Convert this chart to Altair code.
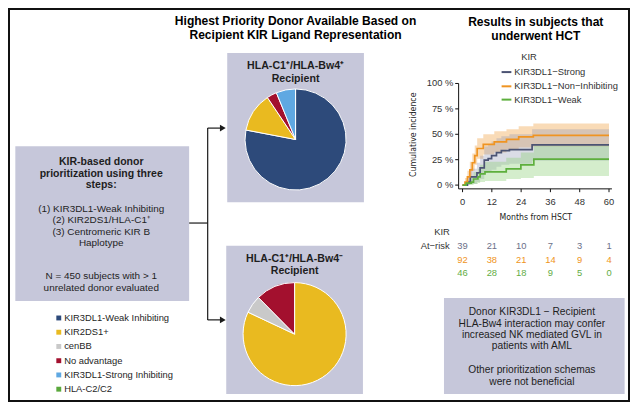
import altair as alt
import pandas as pd

# ---------------- canvas mapping (reference px -> chart px) ----------------
W, H = 622, 394
SX = W / 637.0
SY = H / 415.0
FS = 0.965
def px(X): return (X - 1.5) * SX
def py(Y): return (Y - 1.5) * SY

SANS = "Liberation Sans, Arial, Helvetica, sans-serif"
NARROW = "Liberation Sans Narrow, DejaVu Sans Condensed, Arial Narrow, Liberation Sans, sans-serif"
PANEL = "#c6c7da"

# ---------------- data ----------------
categories = ["KIR3DL1-Weak Inhibiting", "KIR2DS1+", "cenBB", "No advantage",
              "KIR3DL1-Strong Inhibiting", "HLA-C2/C2"]
cat_colors = ["#2d4a7a", "#e9ba20", "#c9c9c9", "#a3102e", "#5fa8e2", "#5aa83c"]
pie1_values = [78.0, 12.6, 0.0, 3.2, 6.2, 0.0]   # HLA-C1+/HLA-Bw4+ recipients (%)
pie2_values = [0.0, 82.0, 5.6, 12.4, 0.0, 0.0]   # HLA-C1+/HLA-Bw4- recipients (%)

km_series = ["KIR3DL1\u2212Strong", "KIR3DL1\u2212Non\u2212Inhibiting", "KIR3DL1\u2212Weak"]
km_colors = ["#4b5373", "#ef9422", "#5daf3d"]
band_colors = ["#8f95b3", "#f2b060", "#8fd07a"]

strong_t = [0, 2, 3.2, 5.9, 7.2, 8.9, 10.5, 11.9, 13.9, 15.9, 19.2, 28.5, 60]
strong_est = [0, 3, 8, 12, 17, 24.5, 26, 29, 32, 34, 35, 39.5, 39.5]
strong_lo = [0, 0, 1, 3, 6, 12, 13, 15, 18, 20, 21, 24, 24]
strong_hi = [0, 8, 16, 22, 29, 38, 40, 43, 46, 48, 50, 55, 55]

noninh_t = [0, 1, 2, 3, 4, 5, 6, 8.5, 13, 18, 23, 29, 60]
noninh_est = [0, 3, 8, 15, 22, 29, 36, 40, 42.5, 45, 47.5, 49, 49]
noninh_lo = [0, 0.5, 3, 8, 14, 20, 26, 30, 32, 35, 37, 38, 38]
noninh_hi = [0, 7, 14, 23, 31, 39, 46, 50, 53, 55, 58, 60.5, 60.5]

weak_t = [0, 1.5, 3.6, 4.5, 6.3, 7.2, 9.2, 17.9, 23.9, 29.2, 60]
weak_est = [0, 2, 3, 6, 8, 11, 13, 16, 20, 25.5, 25.5]
weak_lo = [0, 0, 0, 1, 2, 3, 4, 6, 7, 9, 9]
weak_hi = [0, 5, 8, 13, 16, 20, 23, 27, 32, 39, 39]

risk_times = [0, 12, 24, 36, 48, 60]
risk_strong = [39, 21, 10, 7, 3, 1]
risk_noninh = [92, 38, 21, 14, 9, 4]
risk_weak = [46, 28, 18, 9, 5, 0]
risk_colors = ["#6b7089", "#ef9422", "#63ad45"]

x_ticks = [0, 12, 24, 36, 48, 60]
y_ticks = [0, 25, 50, 75, 100]
x_domain = [-1.6, 61.2]
y_domain = [-3.7, 100]

# ---------------- helpers ----------------
def one():
    return alt.Data(values=[{"a": 1}])

def rect(x1, y1, x2, y2, fill):
    return alt.Chart(one()).mark_rect(fill=fill).encode(
        x=alt.value(px(x1)), x2=alt.value(px(x2)), y=alt.value(py(y1)), y2=alt.value(py(y2)))

def line(x1, y1, x2, y2, color="#1a1a1a", w=1.2):
    return alt.Chart(one()).mark_rule(color=color, strokeWidth=w).encode(
        x=alt.value(px(x1)), x2=alt.value(px(x2)), y=alt.value(py(y1)), y2=alt.value(py(y2)))

def text_layer(rows, weight="normal", align="center", font=SANS, angle=0):
    df = pd.DataFrame([{"x": px(r[0]), "y": py(r[1]), "text": r[2], "size": r[3] * FS,
                        "color": r[4] if len(r) > 4 else "#1e1e1e"} for r in rows])
    return alt.Chart(df).mark_text(fontWeight=weight, align=align, baseline="middle",
                                   font=font, angle=angle).encode(
        x=alt.X("x:Q", scale=None), y=alt.Y("y:Q", scale=None), text="text:N",
        size=alt.Size("size:Q", scale=None), color=alt.Color("color:N", scale=None))

def pie(values, cx, cy, r):
    df = pd.DataFrame({"cat": categories, "v": values, "col": cat_colors,
                       "rank": list(range(len(categories)))})
    df = df[df.v > 0]
    return alt.Chart(df).mark_arc(outerRadius=r * 0.972, stroke="white", strokeWidth=1).encode(
        theta=alt.Theta("v:Q", stack=True),
        order=alt.Order("rank:Q"),
        color=alt.Color("col:N", scale=None),
        x=alt.value(px(cx)), y=alt.value(py(cy)))

# ---------------- layers ----------------
layers = []
# frame
layers.append(alt.Chart(one()).mark_rect(fill="white", stroke="#111", strokeWidth=2).encode(
    x=alt.value(1), x2=alt.value(W - 1), y=alt.value(1), y2=alt.value(H - 1)))
# boxes
layers += [rect(9, 147, 187, 310, PANEL), rect(226, 49, 366, 206, PANEL),
           rect(225, 252, 365, 408, PANEL), rect(448, 307, 633, 408, PANEL)]
# connectors
layers += [line(187, 228, 206, 228), line(206, 128, 206, 330),
           line(206, 128, 220, 128), line(206, 330, 220, 330)]
arrow_df = pd.DataFrame({"x": [px(221.5), px(221.5)], "y": [py(128), py(330)]})
layers.append(alt.Chart(arrow_df).mark_point(shape="triangle-right", filled=True, size=45,
                                             color="#1a1a1a", opacity=1).encode(
    x=alt.X("x:Q", scale=None), y=alt.Y("y:Q", scale=None)))

# pies
layers.append(pie(pie1_values, 296, 140, 52))
layers.append(pie(pie2_values, 295, 345, 53))

# pie legend (left)
leg_y = [328 + 15 * i for i in range(len(categories))]
leg_df = pd.DataFrame({"x": [px(53.5)] * len(categories), "y": [py(v) for v in leg_y],
                       "col": cat_colors})
layers.append(alt.Chart(leg_df).mark_square(size=24, opacity=1).encode(
    x=alt.X("x:Q", scale=None), y=alt.Y("y:Q", scale=None), color=alt.Color("col:N", scale=None)))
layers.append(text_layer([(59, y, c, 9.7) for y, c in zip(leg_y, categories)], align="left"))

# bold texts
layers.append(text_layer([
    (296, 15, "Highest Priority Donor Available Based on", 12.5, "#000"),
    (296, 30, "Recipient KIR Ligand Representation", 12.5, "#000"),
    (542, 16, "Results in subjects that", 12.5, "#000"),
    (542, 31, "underwent HCT", 12.5, "#000"),
    (296, 63, "HLA-C1\u207a/HLA-Bw4\u207a", 11),
    (296, 76, "Recipient", 11),
    (295, 266, "HLA-C1\u207a/HLA-Bw4\u207b", 11),
    (295, 278, "Recipient", 11),
    (97, 164, "KIR-based donor", 10.9),
    (97, 176, "prioritization using three", 10.9),
    (97, 188, "steps:", 10.9),
], weight="bold"))

# normal centered texts
layers.append(text_layer([
    (97, 213, "(1) KIR3DL1-Weak Inhibiting", 10.3),
    (97, 225, "(2) KIR2DS1/HLA-C1\u207a", 10.3),
    (97, 237, "(3) Centromeric KIR B", 10.3),
    (97, 249, "Haplotype", 10.3),
    (97, 284, "N = 450 subjects with > 1", 10.3),
    (97, 296, "unrelated donor evaluated", 10.3),
    (538, 322, "Donor KIR3DL1 \u2212 Recipient", 10.6),
    (538, 334, "HLA-Bw4 interaction may confer", 10.6),
    (538, 346, "increased NK mediated GVL in", 10.6),
    (538, 358, "patients with AML", 10.6),
    (538, 383, "Other prioritization schemas", 10.6),
    (538, 395, "were not beneficial", 10.6),
    (535, 53, "KIR", 9.7, "#333"),
    (446, 237, "KIR", 9.7, "#333"),
    (439, 252, "At\u2212risk", 9.7, "#333"),
]))
# narrow axis titles
layers.append(text_layer([(542, 222, "Months from HSCT", 9, "#222")], font=NARROW))
layers.append(text_layer([(416, 135, "Cumulative incidence", 9, "#222")], font=NARROW, angle=270))

# KM legend
kl_y = [69, 84, 98]
kl_df = pd.DataFrame({"x": [px(507)] * 3, "x2": [px(517)] * 3, "y": [py(v) for v in kl_y],
                      "col": km_colors})
layers.append(alt.Chart(kl_df).mark_rule(strokeWidth=2).encode(
    x=alt.X("x:Q", scale=None), x2="x2:Q", y=alt.Y("y:Q", scale=None),
    color=alt.Color("col:N", scale=None)))
layers.append(text_layer([(520, y, s, 9.7, "#333") for y, s in zip(kl_y, km_series)], align="left"))

# ---------------- KM panel (scaled marks) ----------------
def KMX():
    return alt.Scale(domain=x_domain, range=[px(463), px(620)], nice=False, zero=False)
def KMY():
    return alt.Scale(domain=y_domain, range=[py(192), py(81)], nice=False, zero=False)

km_df = pd.concat([
    pd.DataFrame({"series": km_series[0], "m": strong_t, "est": strong_est, "lo": strong_lo, "hi": strong_hi}),
    pd.DataFrame({"series": km_series[1], "m": noninh_t, "est": noninh_est, "lo": noninh_lo, "hi": noninh_hi}),
    pd.DataFrame({"series": km_series[2], "m": weak_t, "est": weak_est, "lo": weak_lo, "hi": weak_hi}),
])
band_opacity = [0.33, 0.45, 0.38]
for i in [1, 0, 2]:
    sub = km_df[km_df.series == km_series[i]]
    layers.append(alt.Chart(sub).mark_area(interpolate="step-after", color=band_colors[i],
                                           opacity=band_opacity[i]).encode(
        x=alt.X("m:Q", scale=KMX(), axis=None), y=alt.Y("lo:Q", scale=KMY(), axis=None), y2="hi:Q"))

layers.append(alt.Chart(km_df).mark_line(interpolate="step-after", strokeWidth=1.7).encode(
    x=alt.X("m:Q", scale=KMX(), axis=None),
    y=alt.Y("est:Q", scale=KMY(), axis=None),
    color=alt.Color("series:N", scale=alt.Scale(domain=km_series, range=km_colors), legend=None),
    detail="series:N"))

# axes (drawn through the same scales)
xdom = pd.DataFrame({"a": [x_domain[0]], "b": [x_domain[1]]})
layers.append(alt.Chart(xdom).mark_rule(color="#111", strokeWidth=1).encode(
    x=alt.X("a:Q", scale=KMX(), axis=None), x2="b:Q", y=alt.value(py(192))))
ydom = pd.DataFrame({"a": [y_domain[0]], "b": [y_domain[1]]})
layers.append(alt.Chart(ydom).mark_rule(color="#111", strokeWidth=1).encode(
    y=alt.Y("a:Q", scale=KMY(), axis=None), y2="b:Q", x=alt.value(px(463))))
xt = pd.DataFrame({"m": x_ticks, "lab": [str(v) for v in x_ticks]})
layers.append(alt.Chart(xt).mark_rule(color="#111", strokeWidth=1).encode(
    x=alt.X("m:Q", scale=KMX(), axis=None), y=alt.value(py(192)), y2=alt.value(py(195.5))))
layers.append(alt.Chart(xt).mark_text(fontSize=9.7 * FS, font=SANS, color="#333",
                                      baseline="middle").encode(
    x=alt.X("m:Q", scale=KMX(), axis=None), y=alt.value(py(206)), text="lab:N"))
yt = pd.DataFrame({"v": y_ticks, "lab": [f"{v} %" for v in y_ticks]})
layers.append(alt.Chart(yt).mark_rule(color="#111", strokeWidth=1).encode(
    y=alt.Y("v:Q", scale=KMY(), axis=None), x=alt.value(px(459.5)), x2=alt.value(px(463))))
layers.append(alt.Chart(yt).mark_text(fontSize=9.7 * FS, font=SANS, color="#333",
                                      baseline="middle", align="right").encode(
    y=alt.Y("v:Q", scale=KMY(), axis=None), x=alt.value(px(457.5)), text="lab:N"))

# at-risk table
risk_rows = []
for vals, yy, col in zip([risk_strong, risk_noninh, risk_weak], [252, 267, 281], risk_colors):
    for t, v in zip(risk_times, vals):
        risk_rows.append({"m": t, "y": py(yy), "n": str(v), "col": col})
layers.append(alt.Chart(pd.DataFrame(risk_rows)).mark_text(
    fontSize=9.7 * FS, font=SANS, baseline="middle").encode(
    x=alt.X("m:Q", scale=KMX(), axis=None), y=alt.Y("y:Q", scale=None), text="n:N",
    color=alt.Color("col:N", scale=None)))

chart = alt.layer(*layers).resolve_scale(
    x="independent", y="independent", color="independent", theta="independent", size="independent"
).properties(width=W, height=H, padding=0, autosize=alt.AutoSizeParams(type="none")
).configure_view(strokeWidth=0)

chart.save("out.html", embed_options={"renderer": "svg", "actions": False})
